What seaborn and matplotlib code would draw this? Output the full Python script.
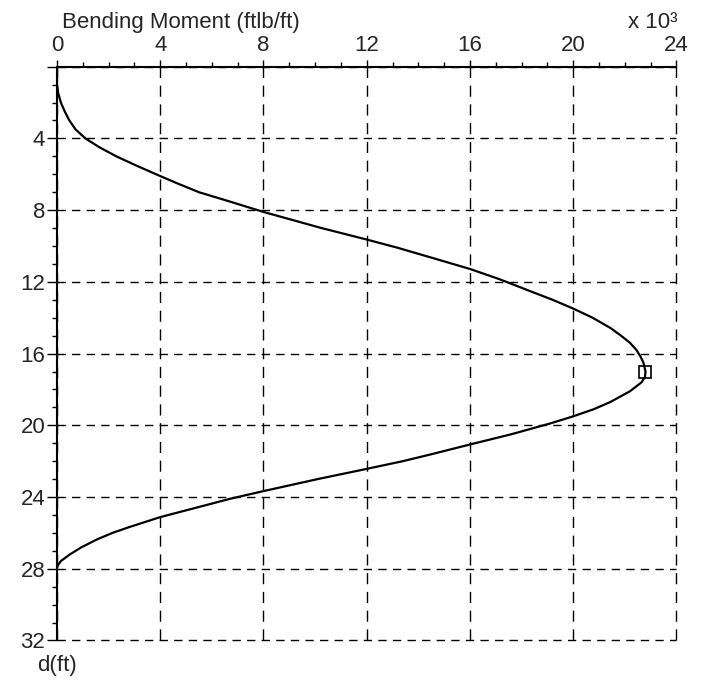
import matplotlib
matplotlib.use("Agg")
import matplotlib.pyplot as plt
import matplotlib.ticker as mticker
import numpy as np
import pandas as pd
import seaborn as sns

# depth (ft) and bending moment (x 10^3 ftlb/ft)
depth = [0, 1.0, 1.2, 1.5, 2.0, 2.5, 3.0, 3.5, 4.0, 4.5, 5.0, 5.5, 6.1,
         6.5, 7.0, 7.5, 8.1, 8.5, 9.0, 9.64, 10.1, 10.63, 11.28, 11.87,
         12.5, 13.0, 13.49, 14.0, 14.57, 15.0, 15.4, 15.8, 16.15, 16.5,
         17.0, 17.3, 17.6, 18.1, 18.7, 19.1, 19.5, 19.9, 20.5, 21.07,
         21.63, 22.0, 22.43, 23.0, 23.67, 24.1, 24.54, 25.12, 25.7, 26.0,
         26.37, 26.8, 27.2, 27.57, 27.8, 27.95]
moment = [0, 0, 0.02, 0.05, 0.15, 0.3, 0.48, 0.72, 1.1, 1.65, 2.3, 3.05, 4.0,
          4.65, 5.5, 6.65, 8.0, 9.0, 10.25, 12.0, 13.2, 14.46, 16.0, 17.18,
          18.3, 19.2, 20.0, 20.75, 21.44, 21.85, 22.2, 22.45, 22.6, 22.72,
          22.8, 22.78, 22.65, 22.2, 21.44, 20.8, 20.0, 19.1, 17.6, 16.0,
          14.46, 13.4, 12.0, 10.1, 8.0, 6.7, 5.54, 4.0, 2.75, 2.15,
          1.54, 0.95, 0.5, 0.15, 0.04, 0]

x_ticks = [0, 4, 8, 12, 16, 20, 24]
y_ticks = [0, 4, 8, 12, 16, 20, 24, 28, 32]
y_labels = ["", "4", "8", "12", "16", "20", "24", "28", "32"]

df = pd.DataFrame({"d": depth, "M": moment})

sns.set_style("white")
plt.rcParams["font.family"] = ["Liberation Sans", "DejaVu Sans"]

fig = plt.figure(figsize=(7.09, 6.82), dpi=100)
ax = fig.add_axes([0.0804, 0.0609, 0.9541 - 0.0804, 0.9022 - 0.0609])

sns.lineplot(data=df, x="M", y="d", sort=False, estimator=None,
             color="black", linewidth=1.6, ax=ax)

# max moment marker
i = int(np.argmax(moment))
ax.plot([moment[i]], [depth[i]], marker="s", markersize=9, mfc="none",
        mec="black", mew=1.2, linestyle="none")

ax.set_xlim(0, 24)
ax.set_ylim(32, 0)
ax.xaxis.tick_top()
ax.set_xticks(x_ticks)
ax.set_yticks(y_ticks)
ax.set_yticklabels(y_labels)
ax.xaxis.set_minor_locator(mticker.MultipleLocator(1))
ax.yaxis.set_minor_locator(mticker.MultipleLocator(1))
ax.set_xlabel("")
ax.set_ylabel("")

ax.tick_params(axis="x", which="major", direction="out", length=5, width=1,
               color="black", labelsize=16, pad=3, top=True, bottom=False)
ax.tick_params(axis="x", which="minor", direction="out", length=3.6, width=1,
               color="black", top=True, bottom=False)
ax.tick_params(axis="y", which="major", direction="out", length=7, width=1,
               color="black", labelsize=16, pad=1.5, left=True)
ax.tick_params(axis="y", which="minor", direction="out", length=3.6, width=1,
               color="black", left=True)

for s in ["right", "bottom"]:
    ax.spines[s].set_visible(False)
for s in ["top", "left"]:
    ax.spines[s].set_color("black")
    ax.spines[s].set_linewidth(1.5)

ax.grid(True, which="major", color="black", linewidth=1.0)
for gl in ax.get_xgridlines():
    gl.set_dashes((8, 5.5))
    gl.set_clip_on(False)
for gl in ax.get_ygridlines():
    gl.set_dashes((6, 4.5))
    gl.set_clip_on(False)

fig.text(62 / 709, 1 - 28 / 682, "Bending Moment (ftlb/ft)", fontsize=16,
         ha="left", va="baseline")
fig.text(677 / 709, 1 - 28 / 682, "x 10³", fontsize=16,
         ha="right", va="baseline")
fig.text(57 / 709, 1 - 655 / 682, "d(ft)", fontsize=16,
         ha="center", va="top")

fig.savefig("out.png", dpi=100, facecolor="white")
